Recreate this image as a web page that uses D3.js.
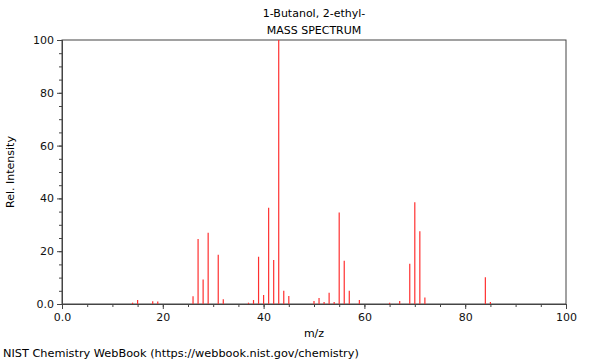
<html>
<head>
<style>
    body { margin: 0; background: #fff; }
    svg { font-family: "DejaVu Sans", sans-serif; }
</style>
</head>
<body>
<svg width="600" height="360"></svg>
<script src="https://cdnjs.cloudflare.com/ajax/libs/d3/7.8.5/d3.min.js"></script>
<script>
    // peaks (m/z, relative intensity)
    const mz = [14, 15, 18, 19, 26, 27, 28, 29, 31, 32, 37, 38, 39, 40, 41, 42, 43, 44, 45,
        50, 51, 52, 53, 54, 55, 56, 57, 59, 65, 67, 69, 70, 71, 72, 84, 85];
    const intensity = [0.5, 1.5, 1.0, 0.9, 2.9, 24.6, 9.3, 27.0, 18.7, 1.8, 0.5, 1.5, 17.9, 3.4, 36.5, 16.7, 100, 5.0, 3.0,
        1.1, 2.3, 0.8, 4.3, 0.8, 34.7, 16.4, 5.0, 1.5, 0.5, 1.1, 15.2, 38.5, 27.6, 2.5, 10.1, 0.8];
    const xTicks = [0, 20, 40, 60, 80, 100];
    const yTicks = [0, 20, 40, 60, 80, 100];
    const tickLabel = v => v === 0 ? '0.0' : String(v);

    const svg = d3.select('svg');
    const plotLeft = 62, plotRight = 566, plotTop = 40, plotBottom = 304;
    const fontSize = 11;

    const x = d3.scaleLinear().domain([0, 100]).range([plotLeft, plotRight]);
    const y = d3.scaleLinear().domain([0, 100]).range([plotBottom, plotTop]);

    // frame
    svg.append('rect')
        .attr('x', plotLeft).attr('y', plotTop)
        .attr('width', plotRight - plotLeft).attr('height', plotBottom - plotTop)
        .attr('fill', 'none').attr('stroke', '#444').attr('stroke-width', 1);

    // peaks
    svg.selectAll('line.peak')
        .data(mz)
        .enter()
        .append('line')
        .attr('class', 'peak')
        .attr('x1', d => x(d)).attr('x2', d => x(d))
        .attr('y1', y(0))
        .attr('y2', (d, i) => y(intensity[i]))
        .attr('stroke', '#ff3030')
        .attr('stroke-width', 1.2);

    const xAxis = d3.axisBottom(x).tickValues(xTicks).tickFormat(tickLabel).tickSize(5).tickPadding(4);
    const xMinor = d3.axisBottom(x).tickValues(d3.range(0, 101, 5)).tickFormat('').tickSize(3);
    const yAxis = d3.axisLeft(y).tickValues(yTicks).tickFormat(tickLabel).tickSize(5).tickPadding(3);
    const yMinor = d3.axisLeft(y).tickValues(d3.range(0, 101, 5)).tickFormat('').tickSize(3);

    [
        [xMinor, `translate(0,${plotBottom})`],
        [xAxis, `translate(0,${plotBottom})`],
        [yMinor, `translate(${plotLeft},0)`],
        [yAxis, `translate(${plotLeft},0)`]
    ].forEach(([ax, t]) => {
        const g = svg.append('g').attr('transform', t).call(ax);
        g.select('.domain').attr('stroke', '#444');
        g.selectAll('.tick line').attr('stroke', '#444');
        g.selectAll('text').attr('font-size', fontSize).attr('fill', '#111').attr('font-family', '"DejaVu Sans", sans-serif');
    });

    svg.append('text')
        .attr('x', (plotLeft + plotRight) / 2).attr('y', 17)
        .attr('text-anchor', 'middle').attr('font-size', fontSize)
        .text('1-Butanol, 2-ethyl-');
    svg.append('text')
        .attr('x', (plotLeft + plotRight) / 2).attr('y', 34)
        .attr('text-anchor', 'middle').attr('font-size', fontSize)
        .text('MASS SPECTRUM');
    svg.append('text')
        .attr('x', (plotLeft + plotRight) / 2).attr('y', 337)
        .attr('text-anchor', 'middle').attr('font-size', fontSize)
        .text('m/z');
    svg.append('text')
        .attr('transform', `translate(14,${(plotTop + plotBottom) / 2}) rotate(-90)`)
        .attr('text-anchor', 'middle').attr('font-size', fontSize)
        .text('Rel. Intensity');
    svg.append('text')
        .attr('x', 3).attr('y', 357)
        .attr('font-size', 11.3)
        .text('NIST Chemistry WebBook (https://webbook.nist.gov/chemistry)');
</script>
</body>
</html>
